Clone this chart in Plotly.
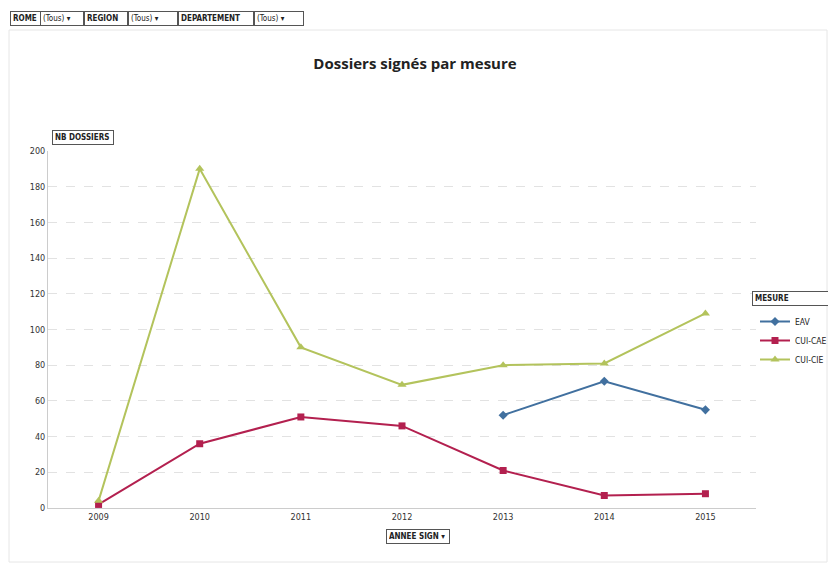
import plotly.graph_objects as go

years = ["2009", "2010", "2011", "2012", "2013", "2014", "2015"]
eav = [None, None, None, None, 52, 71, 55]
cui_cae = [2, 36, 51, 46, 21, 7, 8]
cui_cie = [4, 190, 90, 69, 80, 81, 109]

series = [
    ("EAV", eav, "#41709f", "diamond", 7),
    ("CUI-CAE", cui_cae, "#b3204f", "square", 7),
    ("CUI-CIE", cui_cie, "#b3c35c", "triangle-up", 8),
]

fig = go.Figure()
for name, vals, col, sym, sz in series:
    fig.add_trace(go.Scatter(
        x=years, y=vals, name=name, mode="lines+markers",
        line=dict(color=col, width=2),
        marker=dict(color=col, symbol=sym, size=sz),
        connectgaps=False,
    ))

L, R, T, B = 48, 72, 151, 61
W, H = 828, 569
pw, ph = W - L - R, H - T - B

def px(x):
    return (x - L) / pw

def py(y):
    return (H - B - y) / ph

font = "Liberation Sans Narrow, Arial Narrow, DejaVu Sans Condensed, sans-serif"
ann = []
def box(text, left, cy, width, size=8, bold=True, bc="#555"):
    ann.append(dict(text=("<b>%s</b>" % text) if bold else text, x=px(left), y=py(cy),
                    xref="paper", yref="paper", showarrow=False,
                    xanchor="left", yanchor="middle", width=width, align="left",
                    font=dict(size=size, color="#222", family=font),
                    bordercolor=bc, borderwidth=1, borderpad=2, bgcolor="white"))

# filter bar
box("ROME", 10, 18, 25)
box("(Tous) \u25be", 40, 18, 38, bold=False)
box("REGION", 84, 18, 38)
box("(Tous) \u25be", 128, 18, 44, bold=False)
box("DEPARTEMENT", 178, 18, 70)
box("(Tous) \u25be", 254, 18, 44, bold=False)
box("NB DOSSIERS", 52, 138, 56)
box("ANNEE SIGN \u25be", 386, 536, 58)
box("MESURE", 752, 298, 80)

fig.update_layout(
    width=W, height=H,
    margin=dict(l=L, r=R, t=T, b=B, autoexpand=False),
    paper_bgcolor="white", plot_bgcolor="white",
    title=dict(text="<b>Dossiers signés par mesure</b>", x=415 / W, xanchor="center",
               y=1 - 64 / H, yanchor="middle",
               font=dict(size=15, color="#222", family="Open Sans, sans-serif")),
    xaxis=dict(type="category", range=[-0.5, 6.5], showgrid=False, showline=True,
               linecolor="#ccc", ticks="",
               tickfont=dict(size=9, color="#333", family=font)),
    yaxis=dict(range=[0, 200], dtick=20, showgrid=True, gridcolor="#e2e2e2",
               griddash="dash", zeroline=False, showline=True, linecolor="#ccc",
               ticks="", tickfont=dict(size=9, color="#333", family=font)),
    legend=dict(x=px(755), y=py(307), xanchor="left", yanchor="top",
                font=dict(size=8.5, color="#222", family=font),
                bgcolor="rgba(0,0,0,0)", itemwidth=30, tracegroupgap=0),
    annotations=ann,
    shapes=[dict(type="rect", xref="paper", yref="paper",
                 x0=px(9), x1=px(827), y0=py(562), y1=py(30),
                 line=dict(color="#e6e6e6", width=1))],
)

fig.write_html("out.html")
